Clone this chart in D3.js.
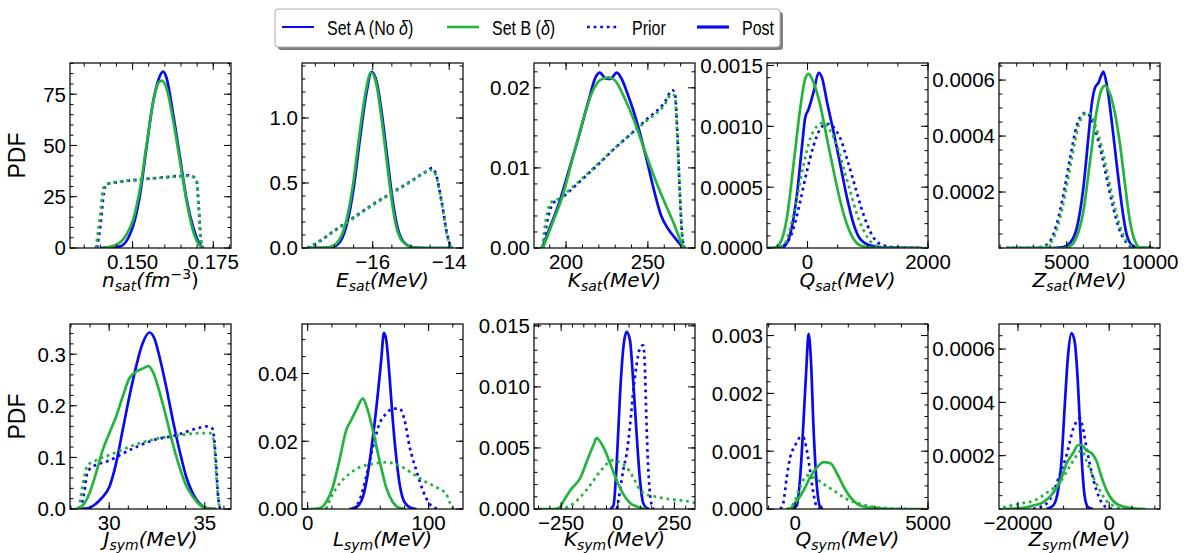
<!DOCTYPE html>
<html>
<head>
<meta charset="utf-8">
<script src="https://cdn.jsdelivr.net/npm/d3@7"></script>
<style>
  body { margin: 0; background: #fff; }
  svg { font-family: "Liberation Sans", Arial, sans-serif; }
</style>
</head>
<body>
<div id="chart"></div>
<script>
// ---- data: [value, pdf] pairs ----
// A = Set A (No delta), B = Set B (delta); post = solid, prior = dotted
const nsatPostA = [[0.1399,0],[0.1461,0.8],[0.1502,11],[0.1523,26],[0.1543,49],[0.1564,71.5],[0.1580,82],[0.1595,86],[0.1605,83],[0.1626,65],[0.1647,44],[0.1667,24],[0.1688,10],[0.1709,1.6],[0.1720,0]];
const nsatPostB = [[0.1409,0],[0.1450,1.6],[0.1481,6.5],[0.1502,14],[0.1523,29],[0.1543,50],[0.1564,71.5],[0.1580,80.5],[0.1590,81.6],[0.1605,78],[0.1626,62],[0.1647,42],[0.1667,23],[0.1688,8],[0.1709,1],[0.1720,0]];
const nsatPriorA = [[0.1390,0],[0.1401,12],[0.1411,27],[0.1418,31],[0.1450,32],[0.1500,33],[0.1550,33.8],[0.1600,34.5],[0.1650,35.2],[0.1678,35.5],[0.1698,33],[0.1705,20],[0.1711,5],[0.1716,0]];
const nsatPriorB = [[0.1386,0],[0.1398,14],[0.1408,28],[0.1416,31],[0.1450,32.2],[0.1500,33.1],[0.1550,33.8],[0.1600,34.4],[0.1650,35],[0.1678,35.2],[0.1698,33],[0.1705,20],[0.1711,5],[0.1716,0]];

const esatPostA = [[-17.7,0],[-17.29,0.001],[-17.03,0.01],[-16.85,0.05],[-16.68,0.18],[-16.5,0.46],[-16.33,0.85],[-16.16,1.2],[-16.03,1.355],[-15.9,1.28],[-15.77,1.05],[-15.63,0.72],[-15.5,0.41],[-15.37,0.18],[-15.2,0.05],[-14.94,0.005],[-14.6,0],[-13.9,0]];
const esatPostB = [[-17.7,0],[-17.3,0.002],[-17.05,0.015],[-16.88,0.06],[-16.7,0.2],[-16.52,0.48],[-16.35,0.87],[-16.18,1.21],[-16.05,1.35],[-15.92,1.28],[-15.79,1.04],[-15.65,0.71],[-15.52,0.4],[-15.39,0.17],[-15.22,0.05],[-14.96,0.005],[-14.6,0],[-13.9,0]];
const esatPriorA = [[-17.7,0],[-17.5,0.03],[-17.0,0.135],[-16.5,0.235],[-16.0,0.335],[-15.5,0.425],[-15.0,0.515],[-14.6,0.59],[-14.45,0.615],[-14.35,0.57],[-14.2,0.36],[-14.05,0.1],[-13.95,0.01],[-13.9,0]];
const esatPriorB = [[-17.72,0],[-17.5,0.035],[-17.0,0.13],[-16.5,0.23],[-16.0,0.33],[-15.5,0.42],[-15.0,0.51],[-14.6,0.585],[-14.45,0.6],[-14.35,0.56],[-14.2,0.35],[-14.05,0.09],[-13.95,0.01],[-13.9,0]];

const ksatPostA = [[185,0],[186,0.0004],[190,0.0025],[196,0.0058],[202,0.0099],[208,0.0141],[214,0.0186],[218,0.0213],[220.6,0.0219],[224,0.0212],[227,0.0211],[231,0.0219],[234,0.0211],[238,0.019],[242,0.0166],[246,0.0137],[250,0.0104],[254,0.007],[258,0.0041],[262,0.0025],[266,0.0014],[270,0.0004],[272,0]];
const ksatPostB = [[185.5,0],[186.5,0.0004],[192,0.0033],[198,0.0066],[204,0.0112],[210,0.0157],[216,0.0195],[221,0.021],[226,0.0213],[230,0.0209],[236,0.0186],[242,0.0157],[248,0.0122],[254,0.0088],[260,0.0058],[266,0.003],[271,0.0004],[272,0]];
const ksatPriorA = [[186,0],[188,0.0028],[190,0.0046],[192,0.0056],[196,0.006],[200,0.0067],[210,0.0086],[220,0.0105],[230,0.0125],[240,0.0143],[250,0.0162],[260,0.0181],[265,0.0197],[266.5,0.0194],[268,0.0145],[269.5,0.007],[271,0.0015],[272.5,0]];
const ksatPriorB = [[185.5,0],[187.5,0.0033],[189.5,0.0052],[191.5,0.0058],[196,0.0062],[200,0.0069],[210,0.0087],[220,0.0106],[230,0.0125],[240,0.0143],[250,0.016],[260,0.0178],[264.5,0.0192],[266.5,0.019],[268,0.014],[269.5,0.007],[271,0.0015],[272.5,0]];

const qsatPostA = [[-660,0],[-512,0],[-401,0.00001],[-290,0.00011],[-178,0.00043],[-95,0.00082],[-39,0.00107],[17,0.00114],[100,0.00128],[184,0.00144],[240,0.0014],[323,0.0012],[434,0.00095],[546,0.00068],[657,0.00041],[769,0.00019],[880,0.00007],[1047,0.00002],[1300,0.000003],[1900,0]];
const qsatPostB = [[-660,0],[-568,0],[-457,0.00004],[-345,0.00024],[-234,0.00068],[-123,0.00114],[-39,0.00139],[17,0.00143],[100,0.00136],[212,0.00117],[323,0.0009],[434,0.00063],[546,0.00038],[657,0.00019],[769,0.00007],[880,0.00002],[1100,0],[1900,0]];
const qsatPriorA = [[-500,0],[-345,0.00004],[-234,0.00016],[-123,0.00038],[-11,0.00063],[100,0.00084],[212,0.00098],[323,0.00102],[434,0.00099],[546,0.0009],[657,0.00073],[769,0.00054],[880,0.00035],[991,0.00019],[1103,0.00008],[1270,0.00002],[1500,0.000005],[1900,0]];
const qsatPriorB = [[-560,0],[-400,0.00002],[-290,0.00016],[-178,0.00041],[-67,0.00068],[45,0.0009],[156,0.001],[267,0.00103],[379,0.00096],[490,0.00084],[602,0.00065],[713,0.00046],[825,0.00027],[936,0.00014],[1075,0.00004],[1300,0],[1900,0]];

const zsatPostA = [[1360,0],[4200,0],[4800,0.000003],[5200,0.000018],[5600,0.00007],[6000,0.000215],[6300,0.000394],[6500,0.000513],[6700,0.000573],[6900,0.00059],[7100,0.00062],[7200,0.00063],[7400,0.000585],[7700,0.000454],[8000,0.0003],[8300,0.000155],[8600,0.000048],[9000,0.000006],[9400,0],[10200,0]];
const zsatPostB = [[1360,0],[4800,0],[5200,0.000006],[5600,0.00004],[6000,0.00013],[6400,0.00031],[6800,0.00049],[7100,0.000567],[7300,0.00058],[7600,0.00055],[7900,0.00048],[8200,0.00037],[8500,0.000227],[8800,0.000095],[9100,0.000024],[9400,0.000002],[10200,0]];
const zsatPriorA = [[1360,0],[3000,0],[3600,0.000006],[4000,0.000024],[4400,0.000084],[4800,0.00019],[5200,0.00032],[5600,0.000436],[6000,0.00048],[6200,0.000484],[6600,0.00044],[7000,0.00036],[7400,0.00025],[7800,0.000143],[8200,0.00006],[8600,0.000018],[9000,0.000002],[10200,0]];
const zsatPriorB = [[1360,0],[3100,0],[3700,0.000006],[4100,0.000024],[4500,0.000084],[4900,0.00019],[5300,0.00032],[5700,0.000436],[6100,0.00048],[6300,0.000484],[6700,0.00044],[7100,0.00036],[7500,0.00025],[7900,0.000143],[8300,0.00006],[8700,0.000018],[9100,0.000002],[10200,0]];

const jsymPostA = [[28.42,0],[28.95,0.002],[29.3,0.01],[29.65,0.023],[30,0.042],[30.35,0.087],[30.7,0.152],[31.05,0.217],[31.4,0.275],[31.75,0.321],[32.1,0.342],[32.37,0.33],[32.63,0.295],[32.98,0.237],[33.33,0.172],[33.68,0.113],[34.03,0.062],[34.39,0.029],[34.74,0.01],[35.18,0.001],[35.6,0]];
const jsymPostB = [[28.25,0],[28.6,0.006],[28.95,0.029],[29.3,0.068],[29.65,0.113],[30,0.146],[30.35,0.178],[30.7,0.217],[31.05,0.253],[31.4,0.266],[31.75,0.272],[32.05,0.277],[32.28,0.266],[32.63,0.227],[32.98,0.178],[33.33,0.126],[33.68,0.081],[34.03,0.045],[34.39,0.023],[34.74,0.008],[35.18,0.001],[35.6,0]];
const jsymPriorA = [[28.5,0],[28.68,0.029],[28.86,0.071],[29.12,0.081],[30,0.094],[31.23,0.117],[32.28,0.133],[33.5,0.143],[34.56,0.156],[35.09,0.16],[35.4,0.156],[35.58,0.094],[35.7,0.023],[35.79,0.002],[35.85,0]];
const jsymPriorB = [[28.42,0],[28.63,0.049],[28.86,0.084],[29.3,0.094],[30.18,0.107],[31.23,0.123],[32.46,0.136],[33.68,0.143],[34.74,0.147],[35.26,0.147],[35.47,0.133],[35.61,0.062],[35.74,0.01],[35.82,0]];

const lsymPostA = [[34.5,0],[40,0.0005],[45.6,0.0035],[49.7,0.0104],[53.9,0.0212],[58,0.034],[60.8,0.044],[63,0.052],[64.9,0.05],[67.7,0.039],[70.4,0.026],[73.2,0.0153],[76,0.0074],[80.1,0.002],[85.6,0.0003],[90,0]];
const lsymPostB = [[1.4,0],[9.7,0.0002],[15.2,0.002],[20.7,0.0064],[26.2,0.0143],[31.8,0.0232],[35.9,0.0262],[40,0.0291],[45.6,0.0326],[49.7,0.0291],[53.9,0.0232],[59.4,0.0143],[64.9,0.0064],[70.4,0.002],[76,0.0003],[81,0]];
const lsymPriorA = [[37.3,0],[42.8,0.0025],[48.3,0.0094],[53.9,0.0183],[59.4,0.0252],[64.9,0.0281],[70.4,0.0296],[76,0.0296],[80.1,0.0262],[84.3,0.0183],[89.8,0.0114],[95.3,0.0054],[100.8,0.0015],[106,0.0002],[110,0]];
const lsymPriorB = [[15.2,0],[20.7,0.0044],[26.2,0.0074],[34.5,0.0104],[42.8,0.0123],[53.9,0.0133],[64.9,0.0138],[76,0.0128],[87,0.0104],[98,0.0079],[109,0.0059],[114.6,0.0044],[117.4,0.002],[120,0.0002],[121,0]];

const ksymPostA = [[-33,0],[-19,0.0003],[-4,0.004],[10,0.0094],[25,0.0133],[39,0.0145],[54,0.0138],[68,0.0105],[83,0.0062],[97,0.0026],[112,0.0005],[126,0.0001],[140,0]];
const ksymPostB = [[-352,0],[-280,0],[-258,0.0001],[-235,0.0008],[-207,0.0016],[-164,0.0026],[-135,0.004],[-106,0.0053],[-94,0.0058],[-62,0.005],[-33,0.0037],[-4,0.0023],[25,0.0012],[54,0.0005],[83,0.0002],[126,0]];
const ksymPriorA = [[-4,0],[10,0.0015],[25,0.0033],[39,0.0045],[54,0.0068],[68,0.0096],[83,0.0118],[97,0.0131],[112,0.0134],[119,0.012],[126,0.0075],[134,0.0035],[141,0.0015],[150,0.0003],[160,0]];
const ksymPriorB = [[-260,0],[-207,0.0003],[-164,0.001],[-120,0.002],[-77,0.0031],[-48,0.0037],[-19,0.004],[10,0.0038],[39,0.0034],[68,0.0026],[97,0.0016],[126,0.0012],[170,0.001],[228,0.0008],[286,0.0007],[343,0.0005]];

const qsymPostA = [[-189,0],[63,0.00006],[189,0.00055],[316,0.00153],[417,0.0024],[505,0.00303],[594,0.00257],[695,0.00136],[821,0.00038],[947,0.00003],[1050,0]];
const qsymPostB = [[-189,0],[63,0.00014],[316,0.00032],[568,0.00055],[821,0.00072],[1074,0.00081],[1326,0.00079],[1579,0.00061],[1831,0.00038],[2084,0.0002],[2337,0.00009],[2715,0.00003],[3221,0.00001],[3600,0],[4850,0]];
const qsymPriorA = [[-568,0],[-442,0.00012],[-316,0.00055],[-189,0.00089],[0,0.0011],[189,0.00124],[290,0.00125],[417,0.00107],[543,0.00072],[669,0.00032],[796,0.00006],[947,0]];
const qsymPriorB = [[-316,0],[-63,0.00009],[189,0.00038],[442,0.00058],[695,0.00055],[1074,0.00043],[1453,0.00032],[1831,0.0002],[2210,0.00012],[2589,0.00007],[3095,0.00003],[3600,0.00001],[4200,0]];

const zsymPostA = [[-13773,0],[-12308,0.0000125],[-11209,0.00007],[-10476,0.00018],[-9744,0.00039],[-9011,0.00058],[-8279,0.00066],[-7546,0.000625],[-7033,0.00052],[-6447,0.00033],[-5861,0.00014],[-5348,0.000044],[-4616,0.000006],[-3500,0]];
const zsymPostB = [[-23300,0],[-19634,0.0000025],[-16700,0.0000125],[-14505,0.000025],[-12308,0.00006],[-10842,0.0001],[-9377,0.00017],[-7912,0.00021],[-6813,0.00024],[-6080,0.00024],[-4982,0.00022],[-3883,0.00021],[-2784,0.00018],[-1685,0.00012],[-586,0.00007],[880,0.00003],[3077,0.000009],[5275,0.0000025],[8000,0]];
const zsymPriorA = [[-16700,0],[-13773,0.00002],[-12308,0.00006],[-10842,0.00013],[-9377,0.0002],[-7912,0.0003],[-6447,0.00034],[-5714,0.0003],[-4982,0.00023],[-3883,0.00014],[-2784,0.00007],[-1685,0.000025],[-586,0.000006],[900,0]];
const zsymPriorB = [[-23300,0.000006],[-19634,0.00002],[-16700,0.00003],[-13773,0.00006],[-10842,0.0001],[-8645,0.00016],[-7180,0.0002],[-6080,0.00022],[-4982,0.00018],[-3517,0.00012],[-2051,0.00007],[-586,0.00003],[880,0.0000125],[2345,0.0000025],[4000,0]];

// tick values
const nsatTicksX = [0.150, 0.175], nsatTicksY = [0, 25, 50, 75];
const esatTicksX = [-16, -14], esatTicksY = [0, 0.5, 1.0];
const ksatTicksX = [200, 250], ksatTicksY = [0, 0.01, 0.02];
const qsatTicksX = [0, 2000], qsatTicksY = [0, 0.0005, 0.0010, 0.0015];
const zsatTicksX = [5000, 10000], zsatTicksY = [0.0002, 0.0004, 0.0006];
const jsymTicksX = [30, 35], jsymTicksY = [0, 0.1, 0.2, 0.3];
const lsymTicksX = [0, 100], lsymTicksY = [0, 0.02, 0.04];
const ksymTicksX = [-250, 0, 250], ksymTicksY = [0, 0.005, 0.010, 0.015];
const qsymTicksX = [0, 5000], qsymTicksY = [0, 0.001, 0.002, 0.003];
const zsymTicksX = [-20000, 0], zsymTicksY = [0.0002, 0.0004, 0.0006];

const legendLabels = ["Set A (No ", "Set B (", "Prior", "Post"];

const blue = "#0a0af0", green = "#22b43c";

const panels = [
  { a: nsatPostA, b: nsatPostB, pa: nsatPriorA, pb: nsatPriorB, xd: [0.1306, 0.1805], yd: [0, 90.2], xt: nsatTicksX, yt: nsatTicksY, xf: ".3f", yf: "d", xm: 0.005, ym: 5, sym: "n", sub: "sat", unit: "fm" },
  { a: esatPostA, b: esatPostB, pa: esatPriorA, pb: esatPriorB, xd: [-17.85, -13.64], yd: [0, 1.423], xt: esatTicksX, yt: esatTicksY, xf: "d", yf: ".1f", xm: 0.5, ym: 0.1, sym: "E", sub: "sat" },
  { a: ksatPostA, b: ksatPostB, pa: ksatPriorA, pb: ksatPriorB, xd: [180.4, 278.8], yd: [0, 0.0231], xt: ksatTicksX, yt: ksatTicksY, xf: "d", yf: ".2f", xm: 10, ym: 0.002, sym: "K", sub: "sat" },
  { a: qsatPostA, b: qsatPostB, pa: qsatPriorA, pb: qsatPriorB, xd: [-673, 2000], yd: [0, 0.00152], xt: qsatTicksX, yt: qsatTicksY, xf: "d", yf: ".4f", xm: 500, ym: 0.0001, sym: "Q", sub: "sat" },
  { a: zsatPostA, b: zsatPostB, pa: zsatPriorA, pb: zsatPriorB, xd: [936, 10600], yd: [0, 0.000661], xt: zsatTicksX, yt: zsatTicksY, xf: "d", yf: ".4f", xm: 1000, ym: 0.00005, sym: "Z", sub: "sat" },
  { a: jsymPostA, b: jsymPostB, pa: jsymPriorA, pb: jsymPriorB, xd: [27.95, 36.37], yd: [0, 0.3585], xt: jsymTicksX, yt: jsymTicksY, xf: "d", yf: ".1f", xm: 1, ym: 0.02, sym: "J", sub: "sym" },
  { a: lsymPostA, b: lsymPostB, pa: lsymPriorA, pb: lsymPriorB, xd: [-4.7, 128.4], yd: [0, 0.0546], xt: lsymTicksX, yt: lsymTicksY, xf: "d", yf: ".2f", xm: 20, ym: 0.005, sym: "L", sub: "sym" },
  { a: ksymPostA, b: ksymPostB, pa: ksymPriorA, pb: ksymPriorB, xd: [-370, 341], yd: [0, 0.01515], xt: ksymTicksX, yt: ksymTicksY, xf: "d", yf: ".3f", xm: 50, ym: 0.001, sym: "K", sub: "sym" },
  { a: qsymPostA, b: qsymPostB, pa: qsymPriorA, pb: qsymPriorB, xd: [-1060, 5000], yd: [0, 0.0032], xt: qsymTicksX, yt: qsymTicksY, xf: "d", yf: ".3f", xm: 1000, ym: 0.0002, sym: "Q", sub: "sym" },
  { a: zsymPostA, b: zsymPostB, pa: zsymPriorA, pb: zsymPriorB, xd: [-24176, 11143], yd: [0, 0.000694], xt: zsymTicksX, yt: zsymTicksY, xf: "d", yf: ".4f", xm: 5000, ym: 0.00005, sym: "Z", sub: "sym" }
];

const W = 1184, H = 553;
const lefts = [70, 302, 534, 767, 999], pw = 161;
const tops = [63, 324], ph = 185;

const svg = d3.select("#chart").append("svg")
  .attr("width", W).attr("height", H);

// minus sign like matplotlib
const fmt = f => v => d3.format(f)(v).replace("-", "\u2212");

// minor tick positions inside a domain
const minorTicks = (dom, step) => {
  const out = [];
  const i0 = Math.ceil(dom[0] / step - 1e-9), i1 = Math.floor(dom[1] / step + 1e-9);
  for (let i = i0; i <= i1; i++) out.push(i * step);
  return out;
};

panels.forEach((p, k) => {
  const row = Math.floor(k / 5), col = k % 5;
  const g = svg.append("g")
    .attr("transform", "translate(" + lefts[col] + "," + tops[row] + ")");

  const x = d3.scaleLinear().domain(p.xd).range([0, pw]);
  const y = d3.scaleLinear().domain(p.yd).range([ph, 0]);

  g.append("clipPath").attr("id", "clip" + k)
    .append("rect").attr("width", pw).attr("height", ph);

  const line = d3.line()
    .x(d => x(d[0])).y(d => y(d[1]))
    .curve(d3.curveMonotoneX);

  const curves = g.append("g").attr("clip-path", "url(#clip" + k + ")");
  const series = [
    { d: p.a, c: blue, dash: null },
    { d: p.pa, c: blue, dash: "2.8,3.8" },
    { d: p.b, c: green, dash: null },
    { d: p.pb, c: green, dash: "2.8,3.8" }
  ];
  series.forEach(s => {
    curves.append("path")
      .attr("d", line(s.d))
      .attr("fill", "none")
      .attr("stroke", s.c)
      .attr("stroke-width", 2.7)
      .attr("stroke-dasharray", s.dash);
  });

  // ticks: inward, on all four sides
  const tg = g.append("g").attr("stroke", "#000").attr("stroke-width", 1);
  minorTicks(p.xd, p.xm).forEach(v => {
    tg.append("line").attr("x1", x(v)).attr("x2", x(v)).attr("y1", ph).attr("y2", ph - 3.5);
    tg.append("line").attr("x1", x(v)).attr("x2", x(v)).attr("y1", 0).attr("y2", 3.5);
  });
  minorTicks(p.yd, p.ym).forEach(v => {
    tg.append("line").attr("y1", y(v)).attr("y2", y(v)).attr("x1", 0).attr("x2", 3.5);
    tg.append("line").attr("y1", y(v)).attr("y2", y(v)).attr("x1", pw).attr("x2", pw - 3.5);
  });
  p.xt.forEach(v => {
    tg.append("line").attr("x1", x(v)).attr("x2", x(v)).attr("y1", ph).attr("y2", ph - 7);
    tg.append("line").attr("x1", x(v)).attr("x2", x(v)).attr("y1", 0).attr("y2", 7);
  });
  p.yt.forEach(v => {
    tg.append("line").attr("y1", y(v)).attr("y2", y(v)).attr("x1", 0).attr("x2", 7);
    tg.append("line").attr("y1", y(v)).attr("y2", y(v)).attr("x1", pw).attr("x2", pw - 7);
  });

  // frame
  g.append("rect").attr("width", pw).attr("height", ph)
    .attr("fill", "none").attr("stroke", "#000").attr("stroke-width", 1.2);

  // tick labels
  g.selectAll(".xl").data(p.xt).enter().append("text")
    .attr("x", d => x(d)).attr("y", ph + 20.5)
    .attr("text-anchor", "middle")
    .style("font-size", "20.5px")
    .text(fmt(p.xf));
  g.selectAll(".yl").data(p.yt).enter().append("text")
    .attr("x", -4).attr("y", d => y(d)).attr("dy", "0.36em")
    .attr("text-anchor", "end")
    .style("font-size", "20.5px")
    .text(fmt(p.yf));

  // axis label, oblique with subscript (mathtext style)
  const lab = g.append("text")
    .attr("x", pw / 2).attr("y", ph + (row === 0 ? 39 : 37))
    .attr("text-anchor", "middle")
    .style("font-family", "'DejaVu Sans', sans-serif")
    .style("font-size", "20px").style("font-style", "italic");
  lab.append("tspan").text(p.sym);
  lab.append("tspan").attr("dy", 3.5).style("font-size", "14px").text(p.sub);
  if (p.unit) {
    lab.append("tspan").attr("dy", -3.5).text("(" + p.unit);
    lab.append("tspan").attr("dy", -8).style("font-size", "14px").style("font-style", "normal").text("\u22123");
    lab.append("tspan").attr("dy", 8).style("font-style", "normal").text(")");
  } else {
    lab.append("tspan").attr("dy", -3.5).text("(MeV)");
  }

  if (col === 0) {
    g.append("text")
      .attr("transform", "translate(-45," + (ph / 2) + ") rotate(-90)")
      .attr("text-anchor", "middle")
      .style("font-size", "23px")
      .text("PDF");
  }
});

// legend
const lg = svg.append("g");
lg.append("rect").attr("x", 278).attr("y", 12).attr("width", 505).attr("height", 38)
  .attr("rx", 3).attr("fill", "#808080");
lg.append("rect").attr("x", 275).attr("y", 9).attr("width", 505).attr("height", 38)
  .attr("rx", 3).attr("fill", "#fff").attr("stroke", "#aaa").attr("stroke-width", 1);

const items = [
  { x: 282, c: blue, w: 2, dash: null },
  { x: 447, c: green, w: 2.6, dash: null },
  { x: 587, c: blue, w: 2.6, dash: "2.8,3.8" },
  { x: 697, c: blue, w: 3.2, dash: null }
];
items.forEach((it, i) => {
  lg.append("line").attr("x1", it.x).attr("x2", it.x + 32).attr("y1", 27).attr("y2", 27)
    .attr("stroke", it.c).attr("stroke-width", it.w).attr("stroke-dasharray", it.dash);
  // the legend face is a narrow sans, squeeze it horizontally
  const t = lg.append("text")
    .attr("transform", "translate(" + (it.x + 45) + ",34.5) scale(0.8,1)")
    .style("font-size", "20px");
  t.append("tspan").text(legendLabels[i]);
  if (i < 2) {
    t.append("tspan").style("font-style", "italic").text("\u03b4");
    t.append("tspan").text(")");
  }
});
</script>
</body>
</html>
